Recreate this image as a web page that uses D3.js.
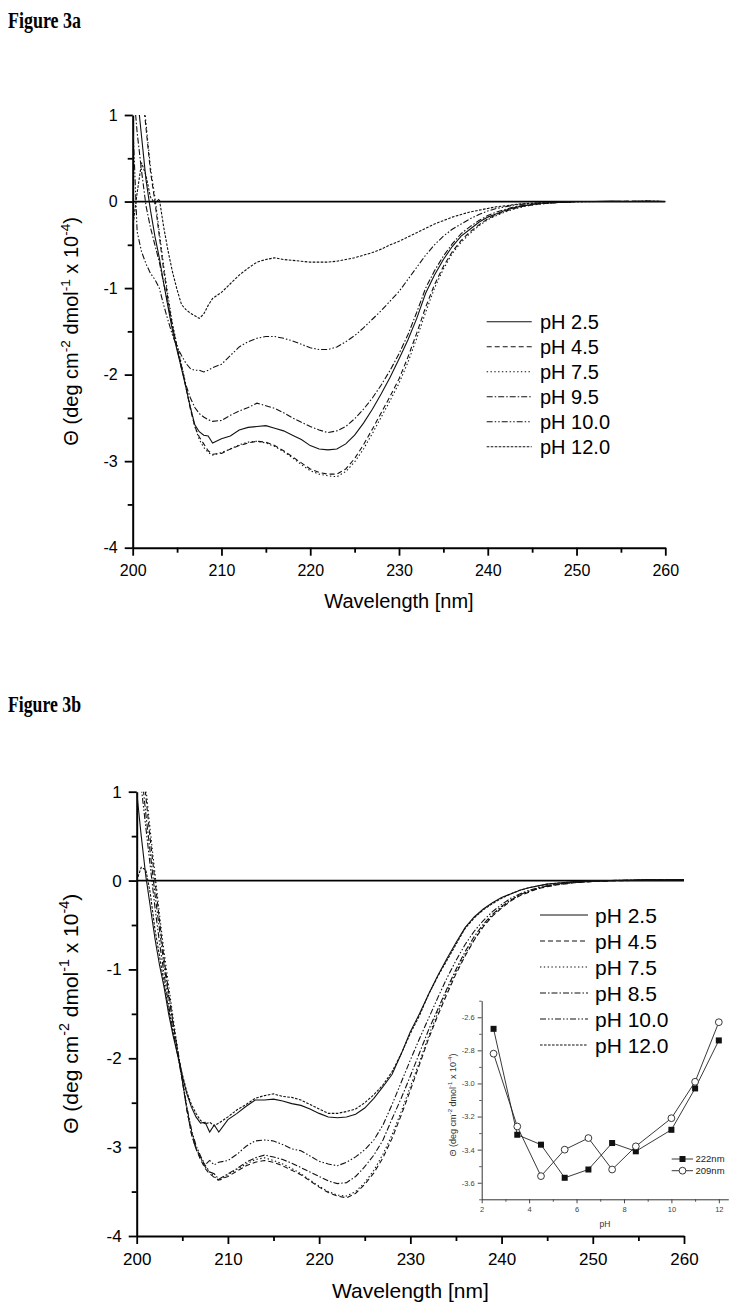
<!DOCTYPE html>
<html><head><meta charset="utf-8">
<script src="https://cdn.jsdelivr.net/npm/d3@7/dist/d3.min.js"></script>
<style>body{margin:0;background:#fff}svg{display:block}</style>
</head><body>
<svg id="c" width="742" height="1314"></svg>
<script>
// ---------- DATA ----------
const wavelengths = [200,200.5,201,201.5,202,202.5,203,203.5,204,204.5,205,205.5,206,206.5,207,207.5,208,208.5,209,
 210,211,212,213,214,215,216,217,218,219,220,221,222,223,224,225,226,227,228,229,230,231,232,233,234,235,236,237,238,239,240,241,242,243,244,245,246,
 248,250,252,254,256,258,260];

// Figure 3a series (theta x 10^-4)
const a_pH25 = [1.9,1.25,0.75,0.25,-0.1,-0.4,-0.65,-0.95,-1.23,-1.5,-1.72,-1.93,-2.15,-2.38,-2.58,-2.66,-2.70,-2.71,-2.79,
 -2.74,-2.71,-2.64,-2.61,-2.60,-2.59,-2.62,-2.65,-2.70,-2.75,-2.82,-2.86,-2.87,-2.86,-2.80,-2.70,-2.56,-2.40,-2.22,-2.03,
 -1.82,-1.60,-1.35,-1.06,-0.85,-0.67,-0.52,-0.40,-0.32,-0.24,-0.18,-0.14,-0.10,-0.07,-0.05,-0.035,-0.02,
 -0.01,0,0,0.005,0,0.005,0];
const a_pH45 = [2.6,2.0,1.35,0.85,0.35,0.0,-0.4,-0.8,-1.15,-1.45,-1.68,-1.9,-2.15,-2.4,-2.6,-2.72,-2.80,-2.88,-2.92,
 -2.91,-2.86,-2.82,-2.79,-2.77,-2.78,-2.82,-2.88,-2.95,-3.02,-3.09,-3.13,-3.15,-3.15,-3.09,-2.97,-2.81,-2.63,-2.44,-2.25,
 -2.05,-1.80,-1.52,-1.22,-0.96,-0.75,-0.58,-0.45,-0.35,-0.27,-0.20,-0.15,-0.11,-0.08,-0.055,-0.04,-0.025,
 -0.01,0,0,0,0.005,0,0];
const a_pH75 = [2.7,2.1,1.45,0.9,0.4,0.05,-0.35,-0.75,-1.1,-1.42,-1.66,-1.88,-2.12,-2.38,-2.6,-2.75,-2.84,-2.9,-2.93,
 -2.90,-2.86,-2.81,-2.78,-2.77,-2.79,-2.83,-2.89,-2.96,-3.04,-3.11,-3.15,-3.17,-3.18,-3.12,-3.01,-2.86,-2.68,-2.49,-2.30,
 -2.10,-1.86,-1.58,-1.28,-1.0,-0.78,-0.60,-0.47,-0.37,-0.28,-0.21,-0.16,-0.12,-0.085,-0.06,-0.04,-0.03,
 -0.01,-0.005,0,0,0,0.005,0];
const a_pH95 = [1.4,0.8,0.35,-0.05,-0.3,-0.5,-0.7,-0.95,-1.2,-1.45,-1.7,-1.93,-2.12,-2.27,-2.38,-2.45,-2.49,-2.52,-2.54,
 -2.53,-2.47,-2.42,-2.38,-2.33,-2.36,-2.39,-2.44,-2.50,-2.55,-2.60,-2.64,-2.67,-2.65,-2.60,-2.51,-2.40,-2.27,-2.12,-1.95,
 -1.76,-1.54,-1.28,-1.00,-0.80,-0.63,-0.49,-0.37,-0.29,-0.22,-0.16,-0.12,-0.09,-0.06,-0.045,-0.03,-0.02,
 -0.01,0,0,0,0,0.005,0];
const a_pH100 = [0.95,-0.35,-0.58,-0.72,-0.83,-0.9,-1.0,-1.2,-1.38,-1.55,-1.68,-1.78,-1.87,-1.93,-1.95,-1.95,-1.97,-1.95,-1.92,
 -1.88,-1.78,-1.68,-1.62,-1.58,-1.56,-1.56,-1.58,-1.61,-1.65,-1.69,-1.71,-1.71,-1.68,-1.62,-1.55,-1.46,-1.36,-1.26,-1.15,
 -1.04,-0.90,-0.76,-0.62,-0.50,-0.40,-0.32,-0.26,-0.20,-0.15,-0.11,-0.08,-0.06,-0.04,-0.03,-0.02,-0.015,
 -0.01,0,0,0,0,0,0];
const a_pH120 = [-0.3,0.1,0.45,0.3,0.05,-0.02,0.03,-0.3,-0.58,-0.82,-1.02,-1.19,-1.25,-1.29,-1.32,-1.35,-1.30,-1.2,-1.12,
 -1.05,-0.95,-0.85,-0.77,-0.70,-0.67,-0.65,-0.67,-0.68,-0.69,-0.70,-0.70,-0.70,-0.69,-0.67,-0.65,-0.62,-0.59,-0.55,-0.50,
 -0.46,-0.41,-0.36,-0.31,-0.26,-0.22,-0.18,-0.15,-0.12,-0.10,-0.08,-0.06,-0.05,-0.035,-0.025,-0.02,-0.015,
 -0.005,0,0,0,0,0,0];
const legendA = ["pH 2.5","pH 4.5","pH 7.5","pH 9.5","pH 10.0","pH 12.0"];

// Figure 3b series
const b_pH25 = [1.0,0.5,0.05,-0.3,-0.65,-0.95,-1.2,-1.5,-1.75,-1.97,-2.2,-2.4,-2.55,-2.66,-2.73,-2.72,-2.83,-2.75,-2.83,
 -2.69,-2.62,-2.54,-2.47,-2.47,-2.46,-2.48,-2.51,-2.53,-2.57,-2.62,-2.66,-2.67,-2.66,-2.63,-2.56,-2.45,-2.32,-2.18,-1.95,
 -1.70,-1.50,-1.28,-1.07,-0.88,-0.70,-0.53,-0.41,-0.32,-0.25,-0.19,-0.15,-0.11,-0.08,-0.06,-0.04,-0.03,
 -0.01,0,0,0.005,0.01,0.005,0.01];
const b_pH45 = [2.0,1.45,0.95,0.45,0.0,-0.45,-0.88,-1.25,-1.6,-1.92,-2.25,-2.58,-2.85,-3.02,-3.14,-3.24,-3.3,-3.34,-3.37,
 -3.33,-3.27,-3.21,-3.17,-3.15,-3.17,-3.21,-3.26,-3.31,-3.38,-3.45,-3.51,-3.55,-3.57,-3.52,-3.42,-3.29,-3.12,-2.90,-2.64,
 -2.36,-2.07,-1.78,-1.52,-1.28,-1.05,-0.85,-0.67,-0.52,-0.40,-0.31,-0.23,-0.17,-0.13,-0.09,-0.07,-0.05,
 -0.025,-0.01,-0.005,0,0.005,0.01,0.005];
const b_pH75 = [2.2,1.6,1.05,0.55,0.08,-0.38,-0.8,-1.18,-1.55,-1.9,-2.22,-2.55,-2.82,-3.0,-3.12,-3.2,-3.28,-3.33,-3.38,
 -3.31,-3.25,-3.19,-3.14,-3.12,-3.15,-3.19,-3.24,-3.30,-3.37,-3.44,-3.50,-3.54,-3.55,-3.50,-3.40,-3.26,-3.08,-2.86,-2.60,
 -2.32,-2.04,-1.75,-1.49,-1.25,-1.03,-0.83,-0.66,-0.51,-0.39,-0.30,-0.22,-0.16,-0.12,-0.09,-0.065,-0.045,
 -0.02,-0.01,0,0,0.01,0.005,0.01];
const b_pH85 = [1.8,1.25,0.75,0.3,-0.15,-0.55,-0.95,-1.3,-1.62,-1.92,-2.25,-2.58,-2.85,-3.02,-3.12,-3.22,-3.28,-3.3,-3.36,
 -3.30,-3.24,-3.17,-3.12,-3.09,-3.11,-3.14,-3.18,-3.23,-3.28,-3.33,-3.38,-3.41,-3.40,-3.33,-3.22,-3.09,-2.92,-2.68,-2.45,
 -2.20,-1.94,-1.68,-1.45,-1.22,-1.00,-0.80,-0.63,-0.49,-0.38,-0.29,-0.22,-0.16,-0.12,-0.09,-0.06,-0.045,
 -0.02,-0.01,0,0.005,0,0.01,0.01];
const b_pH100 = [1.6,1.05,0.6,0.15,-0.3,-0.7,-1.05,-1.4,-1.7,-1.97,-2.25,-2.55,-2.8,-2.98,-3.1,-3.2,-3.15,-3.2,-3.17,
 -3.15,-3.08,-2.99,-2.93,-2.92,-2.93,-2.97,-3.02,-3.04,-3.10,-3.16,-3.19,-3.21,-3.17,-3.11,-3.03,-2.92,-2.75,-2.52,-2.27,
 -2.02,-1.78,-1.55,-1.32,-1.10,-0.90,-0.72,-0.57,-0.45,-0.35,-0.27,-0.20,-0.15,-0.11,-0.08,-0.06,-0.04,
 -0.02,-0.01,0,0,0.005,0.01,0.01];
const b_pH120 = [0.0,0.15,0.12,-0.15,-0.55,-0.85,-1.15,-1.45,-1.72,-1.95,-2.18,-2.38,-2.52,-2.62,-2.70,-2.74,-2.72,-2.76,-2.73,
 -2.66,-2.58,-2.52,-2.45,-2.42,-2.40,-2.43,-2.44,-2.47,-2.52,-2.57,-2.62,-2.62,-2.60,-2.57,-2.50,-2.41,-2.30,-2.15,-1.95,
 -1.72,-1.52,-1.28,-1.08,-0.90,-0.72,-0.54,-0.42,-0.33,-0.26,-0.20,-0.15,-0.11,-0.08,-0.06,-0.04,-0.03,
 -0.015,-0.005,0,0,0.005,0.01,0.01];
const legendB = ["pH 2.5","pH 4.5","pH 7.5","pH 8.5","pH 10.0","pH 12.0"];

// Inset (Figure 3b)
const insetPH = [2.5,3.5,4.5,5.5,6.5,7.5,8.5,10,11,12];
const theta222 = [-2.67,-3.31,-3.37,-3.57,-3.52,-3.36,-3.41,-3.28,-3.03,-2.74];
const theta209 = [-2.82,-3.26,-3.56,-3.40,-3.33,-3.52,-3.38,-3.21,-2.99,-2.63];
const insetLegend = ["222nm","209nm"];

const xTicksMain = [200,210,220,230,240,250,260];
const yTicksMain = [1,0,-1,-2,-3,-4];

// ---------- DRAWING ----------
const svg = d3.select("#c");
const FONT = "'Liberation Sans', Arial, Helvetica, sans-serif";
const dashes = ["none","5,3","1.4,2.4","6,2,1.5,2","6,2,1.5,2,1.5,2","2.6,1.4"];

function figTitle(txt, y){
  svg.append("text").attr("x",8).attr("y",y)
    .attr("font-family","'Liberation Serif','Times New Roman',serif").attr("font-weight","bold")
    .attr("font-size",24).attr("textLength",73).attr("lengthAdjust","spacingAndGlyphs").text(txt);
}

function yLabel(g, x, y, size, fill){
  const t = g.append("text").attr("transform",`translate(${x},${y}) rotate(-90)`)
    .attr("text-anchor","middle").attr("font-family",FONT).attr("font-size",size).attr("fill",fill||"#000");
  const parts = [["Θ (deg cm",0],["-2",1],[" dmol",0],["-1",1],[" x 10",0],["-4",1],[")",0]];
  let prevSup = false;
  parts.forEach(([s,sup])=>{
    const ts = t.append("tspan").text(s);
    if(sup){ ts.attr("font-size",size*0.68).attr("dy",-size*0.42); prevSup=true; }
    else if(prevSup){ ts.attr("dy",size*0.42); prevSup=false; }
  });
}

function mainChart(cfg){
  const {id, x0,x1,yTop,yBot, series, legend, tickFont, labelFont, legX0, legX1, legTx, legY, legDy, legFont, ylabX, xlabY} = cfg;
  const g = svg.append("g");
  const x = d3.scaleLinear().domain([200,260]).range([x0,x1]);
  const y = d3.scaleLinear().domain([-4,1]).range([yBot,yTop]);

  svg.append("clipPath").attr("id",id).append("rect")
    .attr("x",x0).attr("y",yTop).attr("width",x1-x0).attr("height",yBot-yTop);

  // minor ticks
  g.append("g").attr("transform",`translate(0,${yBot})`)
    .call(d3.axisBottom(x).tickValues(d3.range(205,260,10)).tickSize(5).tickSizeOuter(0).tickFormat(""))
    .call(s=>{s.select(".domain").remove(); s.selectAll("line").attr("stroke","#000").attr("stroke-width",1.8);});
  g.append("g").attr("transform",`translate(${x0},0)`)
    .call(d3.axisLeft(y).tickValues([0.5,-0.5,-1.5,-2.5,-3.5]).tickSize(5).tickSizeOuter(0).tickFormat(""))
    .call(s=>{s.select(".domain").remove(); s.selectAll("line").attr("stroke","#000").attr("stroke-width",1.8);});

  // major axes
  const ax = g.append("g").attr("transform",`translate(0,${yBot})`)
    .call(d3.axisBottom(x).tickValues(xTicksMain).tickSize(8).tickPadding(9).tickSizeOuter(0).tickFormat(d=>String(d)));
  const ay = g.append("g").attr("transform",`translate(${x0},0)`)
    .call(d3.axisLeft(y).tickValues(yTicksMain).tickSize(8).tickPadding(7).tickSizeOuter(0).tickFormat(d=>String(d)));
  [ax,ay].forEach(a=>{
    a.select(".domain").attr("stroke","#000").attr("stroke-width",2);
    a.selectAll("line").attr("stroke","#000").attr("stroke-width",1.8);
    a.selectAll("text").attr("font-family",FONT).attr("font-size",tickFont).attr("fill","#000");
  });

  // zero line
  g.append("line").attr("x1",x(200)).attr("x2",x(260)).attr("y1",y(0)).attr("y2",y(0))
    .attr("stroke","#000").attr("stroke-width",1.8);

  // curves
  const line = d3.line().x((d,i)=>x(wavelengths[i])).y(d=>y(d));
  const cg = g.append("g").attr("clip-path",`url(#${id})`);
  series.forEach((s,i)=>{
    cg.append("path").attr("d",line(s)).attr("fill","none").attr("stroke","#111")
      .attr("stroke-width",1.1).attr("stroke-dasharray",dashes[i]);
  });

  // legend
  legend.forEach((lab,i)=>{
    const yy = legY + i*legDy;
    g.append("line").attr("x1",legX0).attr("x2",legX1).attr("y1",yy).attr("y2",yy)
      .attr("stroke","#111").attr("stroke-width",1.1).attr("stroke-dasharray",dashes[i]);
    g.append("text").attr("x",legTx).attr("y",yy).attr("dy","0.36em")
      .attr("font-family",FONT).attr("font-size",legFont).attr("fill","#000").text(lab);
  });

  // axis labels
  g.append("text").attr("x",(x0+x1)/2).attr("y",xlabY).attr("text-anchor","middle")
    .attr("font-family",FONT).attr("font-size",labelFont).attr("fill","#000").text("Wavelength [nm]");
  yLabel(g, ylabX, (yTop+yBot)/2, labelFont);
}

figTitle("Figure 3a", 28);
mainChart({id:"clipA", x0:132.7,x1:665.3,yTop:115,yBot:547.7,
  series:[a_pH25,a_pH45,a_pH75,a_pH95,a_pH100,a_pH120], legend:legendA,
  tickFont:16, labelFont:20, legX0:486.7, legX1:531.7, legTx:540, legY:321.7, legDy:25, legFont:20,
  ylabX:78, xlabY:608});

figTitle("Figure 3b", 712);
mainChart({id:"clipB", x0:136.7,x1:684,yTop:791.7,yBot:1236,
  series:[b_pH25,b_pH45,b_pH75,b_pH85,b_pH100,b_pH120], legend:legendB,
  tickFont:17, labelFont:21, legX0:540, legX1:588, legTx:595, legY:915, legDy:26, legFont:21,
  ylabX:78, xlabY:1298});

// ---------- INSET ----------
(function(){
  const g = svg.append("g");
  const x = d3.scaleLinear().domain([2,12.4]).range([481.7,728.3]);
  const y = d3.scaleLinear().domain([-3.7,-2.5]).range([1199.3,1000.7]);
  const col = "#333";
  g.append("g").attr("transform",`translate(0,${y(-3.7)})`)
    .call(d3.axisBottom(x).tickValues([3,5,7,9,11]).tickSize(2.5).tickFormat(""))
    .call(s=>{s.select(".domain").remove(); s.selectAll("line").attr("stroke",col).attr("stroke-width",0.8);});
  g.append("g").attr("transform",`translate(${x(2)},0)`)
    .call(d3.axisLeft(y).tickValues([-2.5,-2.7,-2.9,-3.1,-3.3,-3.5,-3.7]).tickSize(2.5).tickFormat(""))
    .call(s=>{s.select(".domain").remove(); s.selectAll("line").attr("stroke",col).attr("stroke-width",0.8);});
  const ax = g.append("g").attr("transform",`translate(0,${y(-3.7)})`)
    .call(d3.axisBottom(x).tickValues([2,4,6,8,10,12]).tickSize(4).tickPadding(3).tickSizeOuter(0).tickFormat(d=>String(d)));
  const ay = g.append("g").attr("transform",`translate(${x(2)},0)`)
    .call(d3.axisLeft(y).tickValues([-2.6,-2.8,-3.0,-3.2,-3.4,-3.6]).tickSize(4).tickPadding(3).tickSizeOuter(0).tickFormat(d=>d.toFixed(1)));
  [ax,ay].forEach(a=>{
    a.select(".domain").attr("stroke",col).attr("stroke-width",1);
    a.selectAll("line").attr("stroke",col).attr("stroke-width",0.9);
    a.selectAll("text").attr("font-family",FONT).attr("font-size",7.5).attr("fill","#444");
  });
  g.append("text").attr("x",(x(2)+x(12.4))/2).attr("y",1227).attr("text-anchor","middle")
    .attr("font-family",FONT).attr("font-size",8.5).attr("fill","#333").text("pH");
  yLabel(g, 456, 1105, 9, "#333");

  const line = d3.line().x((d,i)=>x(insetPH[i])).y(d=>y(d));
  g.append("path").attr("d",line(theta222)).attr("fill","none").attr("stroke","#222").attr("stroke-width",0.9);
  g.append("path").attr("d",line(theta209)).attr("fill","none").attr("stroke","#222").attr("stroke-width",0.9);
  theta222.forEach((v,i)=>{
    g.append("rect").attr("x",x(insetPH[i])-3).attr("y",y(v)-3).attr("width",6).attr("height",6).attr("fill","#111");
  });
  theta209.forEach((v,i)=>{
    g.append("circle").attr("cx",x(insetPH[i])).attr("cy",y(v)).attr("r",3.4)
      .attr("fill","#fff").attr("stroke","#222").attr("stroke-width",0.9);
  });
  insetLegend.forEach((lab,i)=>{
    const yy = 1159 + i*11.7;
    g.append("line").attr("x1",671.7).attr("x2",693).attr("y1",yy).attr("y2",yy).attr("stroke","#222").attr("stroke-width",0.9);
    if(i===0) g.append("rect").attr("x",679.5).attr("y",yy-3).attr("width",6).attr("height",6).attr("fill","#111");
    else g.append("circle").attr("cx",682.5).attr("cy",yy).attr("r",3.4).attr("fill","#fff").attr("stroke","#222").attr("stroke-width",0.9);
    g.append("text").attr("x",695.5).attr("y",yy).attr("dy","0.36em").attr("font-family",FONT)
      .attr("font-size",9.5).attr("fill","#222").text(lab);
  });
})();
</script>
</body></html>
